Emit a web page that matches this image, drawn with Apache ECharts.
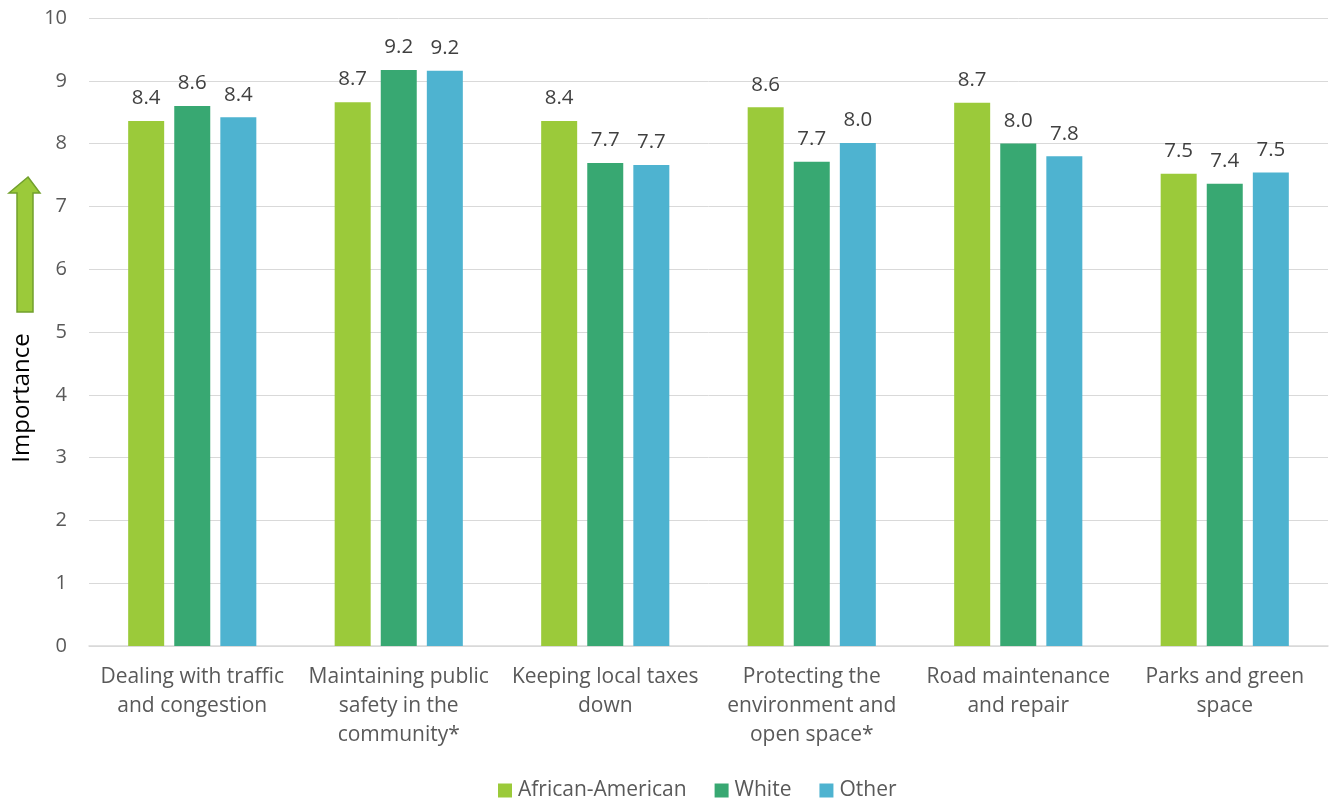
<!DOCTYPE html>
<html>
<head>
<meta charset="utf-8">
<script src="https://cdn.jsdelivr.net/npm/echarts@6/dist/echarts.min.js"></script>
<style>
  html, body { margin: 0; padding: 0; background: #fff; }
  #chart { width: 1333px; height: 802px; }
</style>
</head>
<body>
<div id="chart"></div>
<script>
// Priority issues by respondent group (importance score, 0–10)
const categories = [
  'Dealing with traffic\nand congestion',
  'Maintaining public\nsafety in the\ncommunity*',
  'Keeping local taxes\ndown',
  'Protecting the\nenvironment and\nopen space*',
  'Road maintenance\nand repair',
  'Parks and green\nspace'
];
const seriesNames = ['African-American', 'White', 'Other'];
const africanAmerican = [8.36, 8.66, 8.36, 8.58, 8.65, 7.52];
const white = [8.60, 9.17, 7.69, 7.71, 8.00, 7.36];
const other = [8.42, 9.16, 7.66, 8.01, 7.80, 7.54];
const yTicks = [0, 1, 2, 3, 4, 5, 6, 7, 8, 9, 10];
const axisTitle = 'Importance';

const colors = ['#9BCA3A', '#38A872', '#4EB3D0'];
const FONT = '"Open Sans", "Noto Sans", sans-serif';

const chart = echarts.init(document.getElementById('chart'), null, { renderer: 'canvas' });

function makeSeries(name, values, color) {
  return {
    name: name,
    type: 'bar',
    data: values,
    barWidth: 36,
    barGap: '28%',
    itemStyle: { color: color },
    label: {
      show: true,
      position: 'top',
      distance: 12,
      color: '#404040',
      fontSize: 20.5,
      fontFamily: FONT,
      formatter: p => p.value.toFixed(1)
    },
    emphasis: { disabled: true }
  };
}

const option = {
  animation: false,
  color: colors,
  grid: { left: 89, right: 5, top: 18, bottom: 156, containLabel: false },
  legend: {
    top: 780,
    left: 498,
    padding: 0,
    itemWidth: 14,
    itemHeight: 14,
    itemGap: 28,
    icon: 'rect',
    textStyle: { color: '#595959', fontSize: 21, fontFamily: FONT, padding: [0, 0, 0, 1] },
    data: seriesNames
  },
  xAxis: {
    type: 'category',
    data: categories,
    axisLine: { show: true, lineStyle: { color: '#D9D9D9', width: 1.5 } },
    axisTick: { show: false },
    axisLabel: {
      interval: 0,
      margin: 17,
      color: '#595959',
      fontSize: 21,
      lineHeight: 29,
      fontFamily: FONT
    }
  },
  yAxis: {
    type: 'value',
    min: yTicks[0],
    max: yTicks[yTicks.length - 1],
    interval: 1,
    axisLine: { show: false },
    axisTick: { show: false },
    splitLine: { lineStyle: { color: '#D9D9D9', width: 1 } },
    axisLabel: {
      margin: 22,
      color: '#595959',
      fontSize: 20,
      fontFamily: FONT
    }
  },
  graphic: [
    {
      // upward arrow beside the axis title
      type: 'polygon',
      shape: {
        points: [
          [28, 177], [40, 193], [33, 193], [33, 312],
          [17, 312], [17, 193], [9, 193]
        ]
      },
      style: { fill: '#9BCA3A', stroke: '#71A02C', lineWidth: 1.5 },
      silent: true
    },
    {
      type: 'text',
      x: 22,
      y: 398,
      rotation: Math.PI / 2,
      style: {
        text: axisTitle,
        fill: '#000000',
        fontSize: 24,
        fontFamily: FONT,
        align: 'center',
        verticalAlign: 'middle'
      },
      silent: true
    }
  ],
  series: [
    makeSeries(seriesNames[0], africanAmerican, colors[0]),
    makeSeries(seriesNames[1], white, colors[1]),
    makeSeries(seriesNames[2], other, colors[2])
  ]
};

chart.setOption(option);
</script>
</body>
</html>
